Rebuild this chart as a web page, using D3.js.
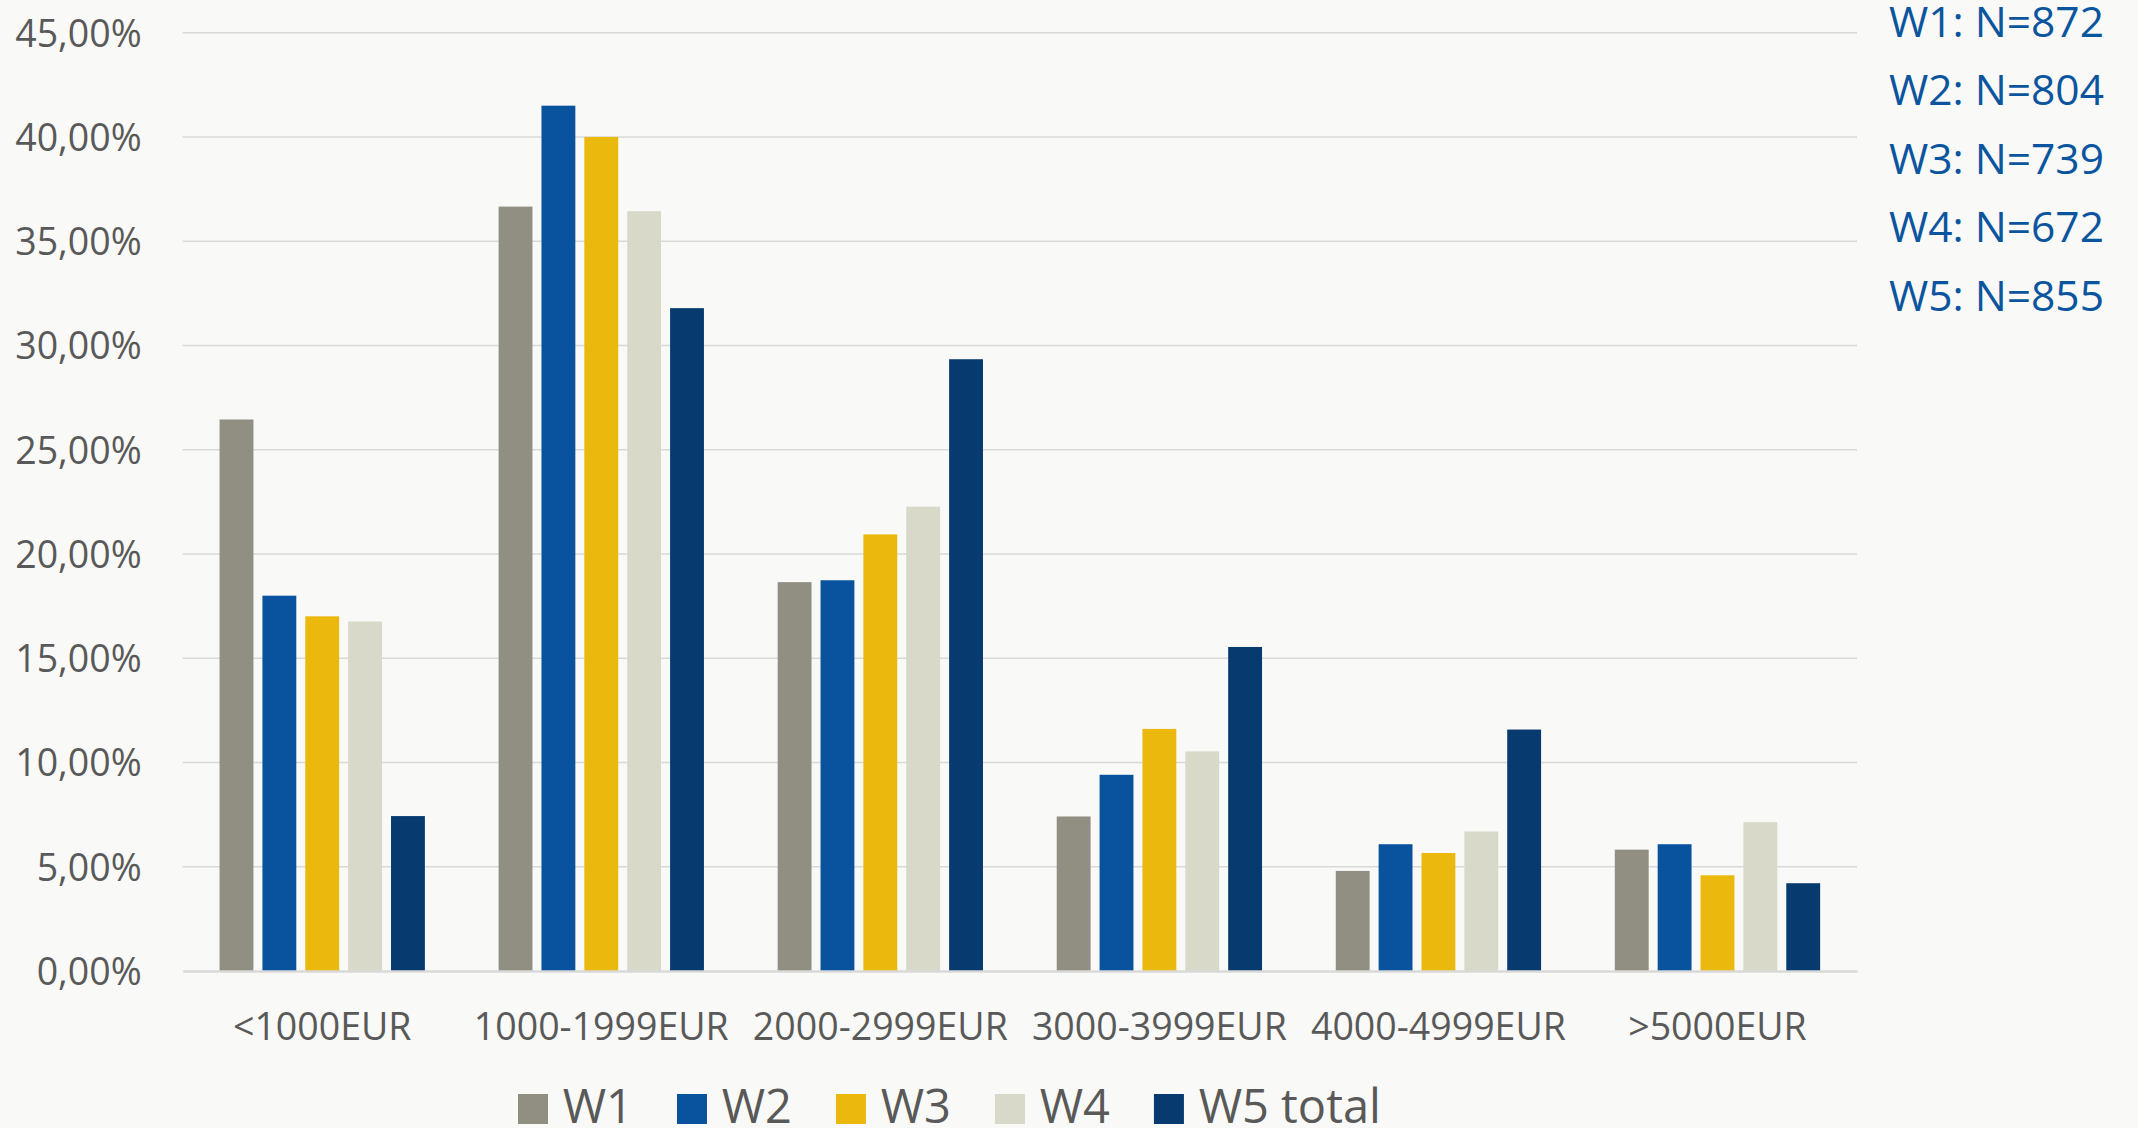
<!DOCTYPE html>
<html>
<head>
<meta charset="utf-8">
<script src="https://cdn.jsdelivr.net/npm/d3@7"></script>
<style>
  html, body { margin: 0; padding: 0; background: #f9f9f7; }
  svg { display: block; }
  text { font-family: "Open Sans", "Noto Sans", sans-serif; }
</style>
</head>
<body>
<svg id="chart" width="2138" height="1128"></svg>
<script>
// Income bands and the share of respondents (in %) per survey wave
const categories = ["<1000EUR", "1000-1999EUR", "2000-2999EUR", "3000-3999EUR", "4000-4999EUR", ">5000EUR"];
const seriesNames = ["W1", "W2", "W3", "W4", "W5 total"];
const w1 = [26.45, 36.66, 18.65, 7.41, 4.80, 5.82];
const w2 = [18.00, 41.50, 18.74, 9.41, 6.08, 6.08];
const w3 = [17.01, 40.00, 20.94, 11.61, 5.66, 4.59];
const w4 = [16.76, 36.44, 22.27, 10.53, 6.69, 7.14];
const w5 = [7.43, 31.79, 29.34, 15.54, 11.58, 4.21];
const waveLabels = ["W1", "W2", "W3", "W4", "W5"];
const sampleSizes = [872, 804, 739, 672, 855];
const yTicks = [0, 5, 10, 15, 20, 25, 30, 35, 40, 45];

const seriesValues = [w1, w2, w3, w4, w5];
const colors = ["#918f82", "#09529d", "#ebb80d", "#d8d9c9", "#073b70"];

const svg = d3.select("#chart");
const plot = { left: 182.7, right: 1857, top: 32.7, bottom: 971 };

const x0 = d3.scaleBand().domain(categories).range([plot.left, plot.right]).padding(0);
const x1 = d3.scaleBand().domain(seriesNames).range([0, x0.bandwidth()])
  .paddingInner(0.21).paddingOuter(0.86);
const y = d3.scaleLinear().domain([0, 45]).range([plot.bottom, plot.top]);

const locale = d3.formatLocale({ decimal: ",", thousands: ".", grouping: [3], currency: ["", "€"] });
const fmt = v => locale.format(".2f")(v) + "%";

// horizontal gridlines
svg.append("g").selectAll("line")
  .data(yTicks.filter(t => t > 0))
  .join("line")
  .attr("x1", plot.left).attr("x2", plot.right)
  .attr("y1", d => y(d)).attr("y2", d => y(d))
  .attr("stroke", "#d9d9d9").attr("stroke-width", 1.5);

// y axis labels
const yAxis = d3.axisLeft(y).tickValues(yTicks).tickFormat(fmt).tickSize(0).tickPadding(0);
const yg = svg.append("g").attr("transform", "translate(141.7,0)").call(yAxis);
yg.select(".domain").remove();
yg.selectAll("text")
  .attr("font-family", "'Open Sans', sans-serif")
  .attr("font-size", 37.5).attr("fill", "#595959").attr("dy", "0.36em");

// bars
const groups = svg.append("g").selectAll("g")
  .data(categories)
  .join("g")
  .attr("transform", d => `translate(${x0(d)},0)`);

groups.selectAll("rect")
  .data((c, ci) => seriesNames.map((s, si) => ({ s, si, v: seriesValues[si][ci] })))
  .join("rect")
  .attr("x", d => x1(d.s))
  .attr("width", x1.bandwidth())
  .attr("y", d => y(d.v))
  .attr("height", d => y(0) - y(d.v))
  .attr("fill", d => colors[d.si]);

// category axis
const xAxis = d3.axisBottom(x0).tickSize(0).tickPadding(0);
const xg = svg.append("g").attr("transform", `translate(0,${plot.bottom})`).call(xAxis);
xg.select(".domain").attr("stroke", "#d9d9d9").attr("stroke-width", 2.5);
xg.selectAll("text")
  .attr("font-family", "'Open Sans', sans-serif")
  .attr("font-size", 37.5).attr("fill", "#595959")
  .attr("dy", 0).attr("y", 69);

// legend
const legend = svg.append("g");
let lx = 518;
seriesNames.forEach((name, i) => {
  legend.append("rect")
    .attr("x", lx).attr("y", 1094).attr("width", 30).attr("height", 30)
    .attr("fill", colors[i]);
  const t = legend.append("text")
    .attr("x", lx + 44.7).attr("y", 1123)
    .attr("font-size", 47).attr("fill", "#595959")
    .text(name);
  lx += 44.7 + t.node().getComputedTextLength() + 44;
});

// sample sizes per wave
svg.append("g").selectAll("text")
  .data(waveLabels)
  .join("text")
  .attr("x", 1889)
  .attr("y", (d, i) => 37 + i * 68.4)
  .attr("font-size", 42.5).attr("fill", "#0b559f")
  .text((d, i) => `${d}: N=${sampleSizes[i]}`);
</script>
</body>
</html>
